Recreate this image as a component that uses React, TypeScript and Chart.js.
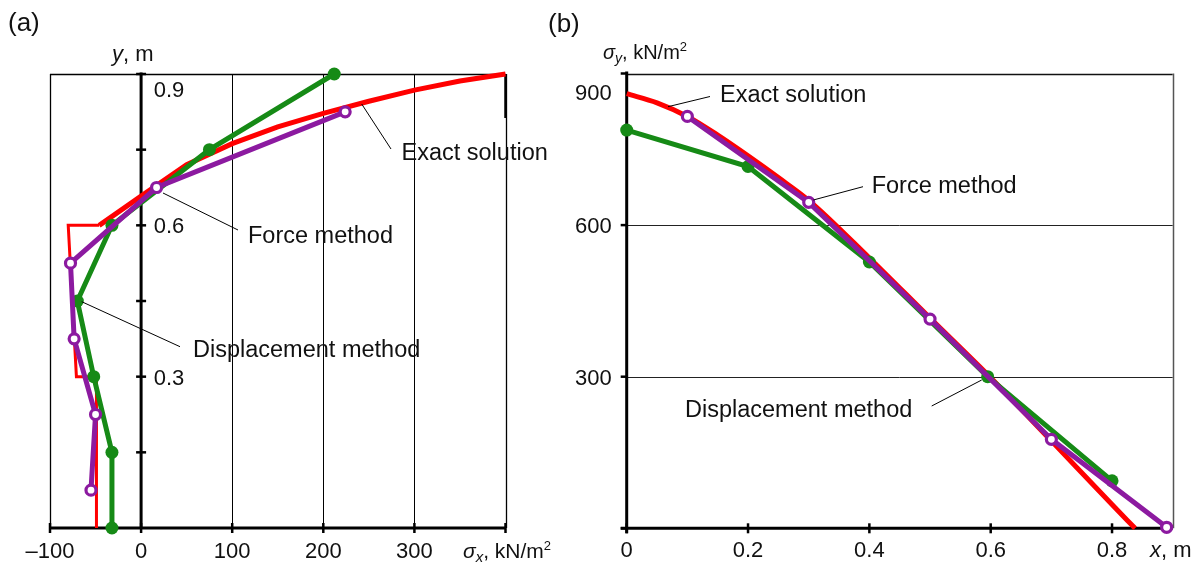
import React, { useEffect, useRef } from "react";
import { Chart, registerables } from "chart.js";

Chart.register(...registerables);

// ---------- Data: panel (a)  (stress sigma_x, kN/m2  vs depth y, m) ----------
const aExactStress = [-49, -49, -71, -80, -46, 0, 50, 100, 150, 200, 250, 300, 350, 400];
const aExactDepth = [0, 0.3, 0.3, 0.6, 0.6, 0.658, 0.72, 0.762, 0.795, 0.822, 0.846, 0.868, 0.886, 0.9];
const aDispDepth = [0, 0.15, 0.3, 0.45, 0.6, 0.75, 0.9];
const aDispStress = [-32, -32, -52, -70, -32, 75, 212];
const aForceDepth = [0.075, 0.225, 0.375, 0.525, 0.675, 0.825];
const aForceStress = [-55, -50, -73.5, -77.5, 17, 224];
const aXTicks = [-100, 0, 100, 200, 300, 400];
const aXTickLabels = ["\u2013100", "0", "100", "200", "300", ""];
const aYTicks = [0.15, 0.3, 0.45, 0.6, 0.75, 0.9];
const aYTickLabels = ["", "0.3", "", "0.6", "", "0.9"];
const aGridX = [100, 200, 300];

// ---------- Data: panel (b)  (stress sigma_y, kN/m2 vs x, m) ----------
const bExactX = [0, 0.05, 0.1, 0.15, 0.2, 0.25, 0.3, 0.4, 0.5, 0.6, 0.7, 0.8, 0.838];
const bExactStress = [860, 842, 815, 778, 737, 694, 649, 535, 416, 298, 173, 47, 0];
const bDispX = [0, 0.2, 0.4, 0.595, 0.8];
const bDispStress = [788, 716, 527, 300, 94];
const bForceX = [0.1, 0.3, 0.5, 0.7, 0.89];
const bForceStress = [815, 645, 414, 176, 2];
const bXTicks = [0, 0.2, 0.4, 0.6, 0.8];
const bXTickLabels = ["0", "0.2", "0.4", "0.6", "0.8"];
const bYTicks = [0, 300, 600, 900];
const bYTickLabels = ["", "300", "600", "900"];
const bGridY = [300, 600];

const SERIES_EXACT = "Exact solution";
const SERIES_FORCE = "Force method";
const SERIES_DISP = "Displacement method";

// ---------- Styles ----------
const FAMILY = '"Liberation Sans", Arial, Helvetica, sans-serif';
const RED = "#ff0000";
const GREEN = "#168a16";
const PURPLE = "#8c1aa0";

type Part = { t: string; size: number; italic?: boolean; dy?: number };

function seg(ctx: CanvasRenderingContext2D, x1: number, y1: number, x2: number, y2: number, w: number, color = "#000") {
  ctx.beginPath();
  ctx.lineWidth = w;
  ctx.strokeStyle = color;
  ctx.moveTo(x1, y1);
  ctx.lineTo(x2, y2);
  ctx.stroke();
}

function rich(ctx: CanvasRenderingContext2D, parts: Part[], x: number, y: number) {
  let cx = x;
  ctx.textAlign = "left";
  ctx.textBaseline = "alphabetic";
  for (const p of parts) {
    ctx.font = `${p.italic ? "italic " : ""}${p.size}px ${FAMILY}`;
    ctx.fillText(p.t, cx, y + (p.dy || 0));
    cx += ctx.measureText(p.t).width;
  }
}

function text(ctx: CanvasRenderingContext2D, t: string, x: number, y: number, size: number, align: CanvasTextAlign = "left") {
  ctx.font = `${size}px ${FAMILY}`;
  ctx.textAlign = align;
  ctx.textBaseline = "alphabetic";
  ctx.fillText(t, x, y);
}

type Note = { label: string; tx: number; ty: number; from: [number, number]; to: [number, number] };

function drawNotes(ctx: CanvasRenderingContext2D, notes: Note[]) {
  for (const n of notes) {
    seg(ctx, n.from[0], n.from[1], n.to[0], n.to[1], 1, "#000");
    text(ctx, n.label, n.tx, n.ty, 23.5);
  }
}

function pts(xs: number[], ys: number[]) {
  return xs.map((x, i) => ({ x, y: ys[i] }));
}

function exactDs(data: any[], thinUpTo: number) {
  return {
    label: SERIES_EXACT,
    data,
    showLine: true,
    borderColor: RED,
    backgroundColor: RED,
    borderWidth: 5,
    pointRadius: 0,
    tension: 0,
    clip: false as any,
    order: 3,
    segment: {
      borderWidth: (c: any) => (c.p1DataIndex <= thinUpTo ? 3 : 5),
    },
  };
}
function dispDs(data: any[]) {
  return {
    label: SERIES_DISP,
    data,
    showLine: true,
    borderColor: GREEN,
    backgroundColor: GREEN,
    borderWidth: 5,
    pointRadius: 6.5,
    pointBorderWidth: 0,
    pointBackgroundColor: GREEN,
    clip: false as any,
    order: 2,
  };
}
function forceDs(data: any[]) {
  return {
    label: SERIES_FORCE,
    data,
    showLine: true,
    borderColor: PURPLE,
    backgroundColor: "#ffffff",
    borderWidth: 5,
    pointRadius: 5,
    pointBorderWidth: 3.2,
    pointBorderColor: PURPLE,
    pointBackgroundColor: "#ffffff",
    clip: false as any,
    order: 1,
  };
}

// ---------- Panel (a) ----------
const notesA: Note[] = [
  { label: SERIES_EXACT, tx: 401.5, ty: 160, from: [361.7, 104], to: [391, 149] },
  { label: SERIES_FORCE, tx: 248, ty: 243, from: [163, 193], to: [238, 230] },
  { label: SERIES_DISP, tx: 193, ty: 357, from: [81.7, 301.7], to: [180, 346.7] },
];

const panelAPlugin = {
  id: "panelA",
  beforeDatasetsDraw(chart: any) {
    const { ctx, chartArea: ca } = chart;
    const sx = chart.scales.x;
    const sy = chart.scales.y;
    const px = (v: number) => sx.getPixelForValue(v);
    const py = (v: number) => sy.getPixelForValue(v);
    ctx.save();
    ctx.lineCap = "butt";
    for (const v of aGridX) {
      const X = Math.round(px(v)) + 0.5;
      seg(ctx, X, ca.top, X, ca.bottom, 1);
    }
    const L = Math.round(ca.left) + 0.5;
    const R = Math.round(ca.right) + 0.5;
    const T = Math.round(ca.top) + 0.5;
    seg(ctx, L, ca.top, L, ca.bottom, 1.3);
    seg(ctx, R, ca.top, R, ca.bottom, 1.3);
    seg(ctx, ca.left, T, ca.right, T, 1.3);
    seg(ctx, ca.right, ca.top, ca.right, ca.top + 44, 2.5);
    // vertical axis at sigma = 0
    const X0 = px(0);
    seg(ctx, X0, ca.top - 1.5, X0, ca.bottom, 3);
    for (const v of aYTicks) {
      const Y = py(v);
      seg(ctx, X0 - 5, Y, X0 + 5, Y, 2.5);
    }
    // horizontal axis
    seg(ctx, ca.left, ca.bottom, ca.right, ca.bottom, 3);
    for (const v of aXTicks) {
      const X = px(v);
      seg(ctx, X, ca.bottom - 5, X, ca.bottom + 5, 2.5);
    }
    ctx.restore();
  },
  afterDatasetsDraw(chart: any) {
    const { ctx, chartArea: ca } = chart;
    const sx = chart.scales.x;
    const sy = chart.scales.y;
    const X0 = sx.getPixelForValue(0);
    ctx.save();
    ctx.fillStyle = "#111";
    aXTicks.forEach((v, i) => {
      if (aXTickLabels[i]) text(ctx, aXTickLabels[i], sx.getPixelForValue(v), ca.bottom + 30, 22, "center");
    });
    aYTicks.forEach((v, i) => {
      if (!aYTickLabels[i]) return;
      const off = v === sy.max ? 23 : 8;
      text(ctx, aYTickLabels[i], X0 + 12.6, sy.getPixelForValue(v) + off, 22, "left");
    });
    rich(ctx, [{ t: "y", size: 22, italic: true }, { t: ", m", size: 22 }], 112, 60.5);
    rich(
      ctx,
      [
        { t: "\u03c3", size: 21, italic: true },
        { t: "x", size: 15, italic: true, dy: 4 },
        { t: ", kN/m", size: 21 },
        { t: "2", size: 13, dy: -8 },
      ],
      463,
      558
    );
    text(ctx, "(a)", 8, 31, 26);
    drawNotes(ctx, notesA);
    ctx.restore();
  },
};

// ---------- Panel (b) ----------
const OFFB = 540;
const notesB: Note[] = [
  { label: SERIES_EXACT, tx: 720 - OFFB, ty: 101.5, from: [668 - OFFB, 106.7], to: [710 - OFFB, 96.5] },
  { label: SERIES_FORCE, tx: 871.7 - OFFB, ty: 193.3, from: [813.3 - OFFB, 200], to: [863 - OFFB, 186.7] },
  { label: SERIES_DISP, tx: 685 - OFFB, ty: 416.7, from: [931.7 - OFFB, 406], to: [981.7 - OFFB, 380] },
];

const panelBPlugin = {
  id: "panelB",
  beforeDatasetsDraw(chart: any) {
    const { ctx, chartArea: ca } = chart;
    const sx = chart.scales.x;
    const sy = chart.scales.y;
    ctx.save();
    ctx.lineCap = "butt";
    for (const v of bGridY) {
      const Y = Math.round(sy.getPixelForValue(v)) + 0.5;
      seg(ctx, ca.left, Y, ca.right, Y, 1, "#222");
    }
    const T = Math.round(ca.top) + 0.5;
    const R = Math.round(ca.right) + 0.5;
    seg(ctx, ca.left, T, ca.right, T, 1.3, "#111");
    seg(ctx, R, ca.top, R, ca.bottom, 1.5, "#555");
    // y axis
    seg(ctx, ca.left, ca.top - 2, ca.left, ca.bottom + 5, 3);
    for (const v of bYTicks) {
      const Y = sy.getPixelForValue(v);
      seg(ctx, ca.left - 6, Y, ca.left, Y, 2.5);
    }
    // x axis
    seg(ctx, ca.left - 6, ca.bottom, ca.right, ca.bottom, 3);
    for (const v of bXTicks) {
      const X = sx.getPixelForValue(v);
      seg(ctx, X, ca.bottom - 5, X, ca.bottom + 5, 2.5);
    }
    ctx.restore();
  },
  afterDatasetsDraw(chart: any) {
    const { ctx, chartArea: ca } = chart;
    const sx = chart.scales.x;
    const sy = chart.scales.y;
    ctx.save();
    ctx.fillStyle = "#111";
    bXTicks.forEach((v, i) => {
      if (bXTickLabels[i]) text(ctx, bXTickLabels[i], sx.getPixelForValue(v), ca.bottom + 29, 22, "center");
    });
    bYTicks.forEach((v, i) => {
      if (!bYTickLabels[i]) return;
      const off = v === sy.max ? 26.5 : 8;
      text(ctx, bYTickLabels[i], ca.left - 15, sy.getPixelForValue(v) + off, 22, "right");
    });
    rich(
      ctx,
      [
        { t: "\u03c3", size: 20, italic: true },
        { t: "y", size: 14, italic: true, dy: 4 },
        { t: ", kN/m", size: 20 },
        { t: "2", size: 13, dy: -8 },
      ],
      603 - OFFB,
      59.3
    );
    rich(ctx, [{ t: "x", size: 22, italic: true }, { t: ", m", size: 22 }], 1150 - OFFB, 557);
    text(ctx, "(b)", 548 - OFFB, 32, 26);
    drawNotes(ctx, notesB);
    ctx.restore();
  },
};

function makeConfigA(): any {
  return {
    type: "scatter",
    data: {
      datasets: [
        exactDs(pts(aExactStress, aExactDepth), 4),
        dispDs(pts(aDispStress, aDispDepth)),
        forceDs(pts(aForceStress, aForceDepth)),
      ],
    },
    options: {
      animation: false,
      responsive: false,
      maintainAspectRatio: false,
      devicePixelRatio: 1,
      events: [],
      layout: { padding: { left: 50, right: 94.5, top: 74, bottom: 35 } },
      scales: {
        x: { type: "linear", min: -100, max: 400, display: false },
        y: { type: "linear", min: 0, max: 0.9, display: false },
      },
      plugins: { legend: { display: false }, tooltip: { enabled: false } },
    },
    plugins: [panelAPlugin],
  };
}

function makeConfigB(): any {
  return {
    type: "scatter",
    data: {
      datasets: [
        { ...exactDs(pts(bExactX, bExactStress), -1), cubicInterpolationMode: "monotone" },
        dispDs(pts(bDispX, bDispStress)),
        forceDs(pts(bForceX, bForceStress)),
      ],
    },
    options: {
      animation: false,
      responsive: false,
      maintainAspectRatio: false,
      devicePixelRatio: 1,
      events: [],
      layout: { padding: { left: 86.7, right: 27.3, top: 73.5, bottom: 34.7 } },
      scales: {
        x: { type: "linear", min: 0, max: 0.9, display: false },
        y: { type: "linear", min: 0, max: 900, display: false },
      },
      plugins: { legend: { display: false }, tooltip: { enabled: false } },
    },
    plugins: [panelBPlugin],
  };
}

function ChartCanvas({ make, left, width }: { make: () => any; left: number; width: number }) {
  const ref = useRef<HTMLCanvasElement | null>(null);
  useEffect(() => {
    if (!ref.current) return;
    const chart = new Chart(ref.current, make());
    return () => chart.destroy();
  }, []);
  return (
    <canvas
      ref={ref}
      width={width}
      height={563}
      style={{ position: "absolute", left, top: 0, width, height: 563 }}
    />
  );
}

export default function App() {
  useEffect(() => {
    document.body.style.margin = "0";
  }, []);
  return (
    <div style={{ position: "fixed", left: 0, top: 0, width: 1200, height: 563, background: "#fff", overflow: "hidden" }}>
      <ChartCanvas make={makeConfigA} left={0} width={600} />
      <ChartCanvas make={makeConfigB} left={540} width={660} />
    </div>
  );
}
